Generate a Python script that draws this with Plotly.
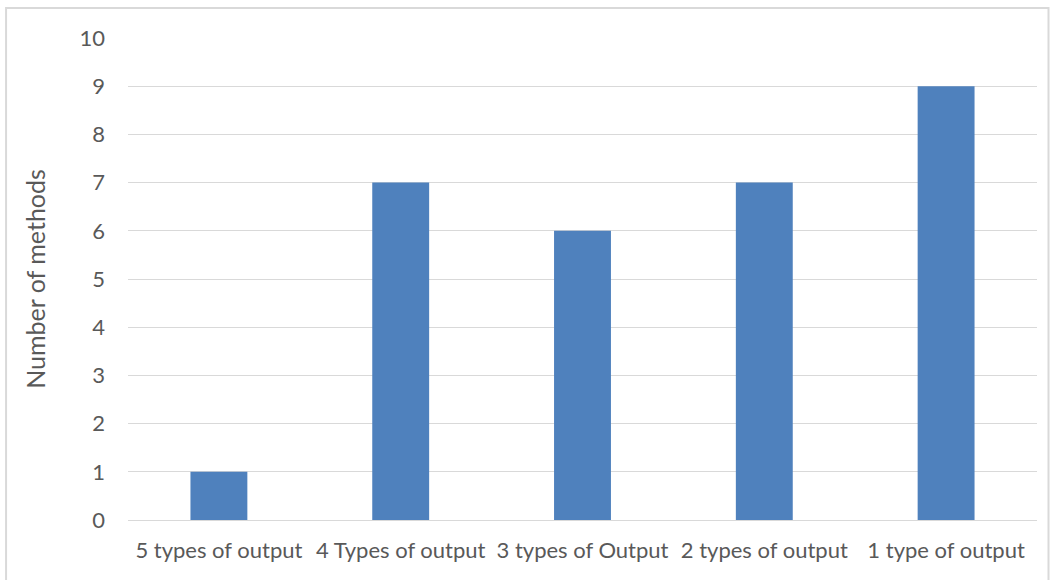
import plotly.graph_objects as go

categories = ["5 types of output", "4 Types of output", "3 types of Output", "2 types of output", "1 type of output"]
values = [1, 7, 6, 7, 9]
y_ticks = list(range(0, 11))

W, H = 1053, 580
L, R, T, B = 128, 15.5, 38, 60
pw, ph = W - L - R, H - T - B

def px(x):
    return (x - L) / pw

def py(y):
    return (H - B - y) / ph

fig = go.Figure(go.Bar(
    x=categories, y=values,
    marker=dict(color="#4F81BD", line=dict(width=0)),
    width=0.313,
))

fig.update_layout(
    width=W, height=H,
    margin=dict(l=L, r=R, t=T, b=B, autoexpand=False),
    paper_bgcolor="white", plot_bgcolor="white",
    font=dict(family="Lato, 'Open Sans', sans-serif", size=22, color="#595959"),
    showlegend=False,
    xaxis=dict(showgrid=False, showline=False, ticks="", ticklabelstandoff=15,
               tickfont=dict(size=22, color="#595959")),
    yaxis=dict(range=[0, 10], tickvals=y_ticks, showgrid=True, gridcolor="#d9d9d9",
               gridwidth=1.3, zeroline=True, zerolinecolor="#d9d9d9", zerolinewidth=1.3,
               showline=False, ticks="", ticklabelstandoff=22,
               tickfont=dict(size=22, color="#595959"),
               title=dict(text="Number of methods", font=dict(size=25, color="#595959"), standoff=26)),
    shapes=[dict(type="rect", xref="paper", yref="paper",
                 x0=px(6), x1=px(1049), y0=py(590), y1=py(8),
                 line=dict(color="#d9d9d9", width=2), fillcolor="rgba(0,0,0,0)", layer="below")],
)

fig.write_html("out.html", config={"displayModeBar": False},
               post_script="document.body.style.margin='0px';")
